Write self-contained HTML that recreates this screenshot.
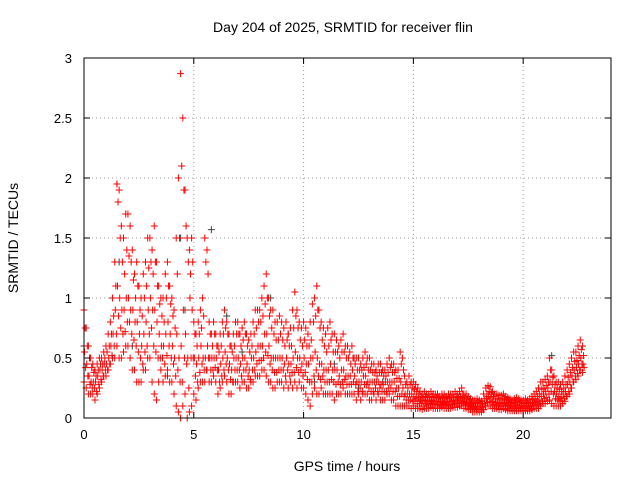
<!DOCTYPE html>
<html><head><meta charset="utf-8"><style>
html,body{margin:0;padding:0;background:#fff}
svg{display:block;font-family:"Liberation Sans",sans-serif}
</style></head><body>
<svg id="chart" width="640" height="480">
<text x="343" y="32" text-anchor="middle" font-size="14">Day 204 of 2025, SRMTID for receiver flin</text>
<text x="347" y="471" text-anchor="middle" font-size="14">GPS time / hours</text>
<text transform="translate(18,238) rotate(-90)" text-anchor="middle" font-size="14">SRMTID / TECUs</text>
<g id="grid"></g><g id="gray"></g><g id="red"></g><g id="axes"></g>
</svg>
<script>
const xTicks=[0,5,10,15,20];
const yTicks=[0,0.5,1,1.5,2,2.5,3];
const yTickLabels=["0","0.5","1","1.5","2","2.5","3"];
const tStart=0, tStep=0.1;
const redUpper=[0.9,0.75,0.6,0.5,0.45,0.4,0.45,0.5,0.5,0.55,
0.6,0.7,0.8,1.0,1.3,1.95,1.9,1.6,1.5,1.7,
1.7,1.6,1.4,1.2,1.3,1.1,1.0,1.2,1.3,1.5,
1.5,1.4,1.6,1.3,1.1,1.0,1.0,1.2,1.3,1.1,
1.0,0.9,1.5,2.0,2.87,2.5,1.9,1.5,1.4,1.5,
0.8,0.7,0.8,0.9,1.0,1.5,1.4,0.8,0.7,0.8,
0.7,0.6,0.7,0.8,0.9,0.8,0.7,0.6,0.7,0.8,
0.8,0.7,0.75,0.8,0.7,0.65,0.7,0.8,0.9,0.9,
0.9,1.0,1.1,1.2,1.0,0.9,0.9,0.8,0.8,0.85,
0.8,0.75,0.8,0.7,0.75,0.9,1.05,0.9,0.8,0.75,
0.8,0.75,0.7,0.8,0.95,1.0,1.1,0.9,0.8,0.75,
0.7,0.75,0.8,0.7,0.7,0.65,0.6,0.65,0.7,0.6,
0.6,0.55,0.6,0.5,0.5,0.5,0.45,0.5,0.55,0.5,
0.5,0.45,0.45,0.4,0.45,0.45,0.4,0.4,0.45,0.5,
0.45,0.45,0.4,0.4,0.55,0.5,0.35,0.3,0.35,0.3,
0.3,0.28,0.25,0.22,0.2,0.22,0.2,0.2,0.22,0.2,
0.2,0.2,0.18,0.2,0.2,0.18,0.2,0.2,0.2,0.22,
0.2,0.22,0.25,0.2,0.2,0.18,0.16,0.15,0.15,0.16,
0.15,0.14,0.2,0.25,0.27,0.26,0.22,0.2,0.2,0.19,
0.19,0.2,0.18,0.17,0.16,0.15,0.16,0.17,0.16,0.15,
0.15,0.16,0.15,0.16,0.18,0.2,0.22,0.25,0.3,0.3,
0.32,0.35,0.5,0.4,0.35,0.3,0.3,0.28,0.3,0.35,
0.4,0.45,0.5,0.55,0.55,0.6,0.65,0.6];
const redUpperMid=[0.75,0.6,0.5,0.42,0.38,0.35,0.4,0.45,0.45,0.5,
0.55,0.6,0.7,0.85,1.1,1.8,1.5,1.3,1.2,1.4,
1.35,1.3,1.15,1.0,1.1,0.9,0.85,1.0,1.1,1.25,
1.3,1.2,1.3,1.1,0.95,0.85,0.8,1.0,1.1,0.95,
0.85,0.75,1.2,1.5,2.1,1.9,1.6,1.3,1.2,1.3,
0.7,0.6,0.7,0.75,0.85,1.3,1.2,0.7,0.6,0.7,
0.6,0.55,0.6,0.7,0.75,0.7,0.6,0.55,0.6,0.7,
0.7,0.6,0.65,0.7,0.6,0.55,0.6,0.7,0.75,0.8,
0.8,0.85,0.95,1.0,0.85,0.75,0.7,0.65,0.65,0.7,
0.65,0.6,0.65,0.6,0.6,0.75,0.85,0.75,0.65,0.6,
0.65,0.6,0.6,0.65,0.8,0.85,0.9,0.75,0.65,0.6,
0.55,0.6,0.65,0.55,0.55,0.55,0.5,0.55,0.55,0.5,
0.5,0.45,0.5,0.45,0.4,0.4,0.4,0.42,0.45,0.4,
0.4,0.38,0.38,0.35,0.38,0.38,0.35,0.35,0.38,0.42,
0.38,0.38,0.33,0.33,0.45,0.4,0.28,0.25,0.28,0.25,
0.24,0.22,0.2,0.18,0.17,0.18,0.17,0.17,0.18,0.17,
0.17,0.17,0.16,0.17,0.17,0.16,0.17,0.17,0.17,0.18,
0.17,0.18,0.2,0.17,0.16,0.15,0.13,0.12,0.12,0.13,
0.12,0.12,0.16,0.2,0.22,0.21,0.18,0.16,0.16,0.15,
0.15,0.16,0.15,0.14,0.13,0.12,0.13,0.14,0.13,0.12,
0.12,0.13,0.12,0.13,0.15,0.16,0.18,0.2,0.24,0.25,
0.27,0.3,0.4,0.34,0.28,0.25,0.24,0.22,0.25,0.28,
0.34,0.38,0.42,0.47,0.48,0.52,0.57,0.52];
const redMid=[0.55,0.45,0.35,0.3,0.3,0.3,0.35,0.4,0.4,0.45,
0.45,0.5,0.6,0.7,0.9,1.1,1.0,0.9,0.9,1.0,
1.0,0.9,0.9,0.8,0.8,0.7,0.6,0.7,0.8,0.9,
1.0,0.9,0.9,0.8,0.7,0.6,0.6,0.7,0.8,0.7,
0.6,0.5,0.7,0.5,0.6,0.9,0.7,0.5,1.0,0.9,
0.5,0.45,0.5,0.6,0.5,0.5,0.6,0.5,0.5,0.5,
0.5,0.4,0.45,0.5,0.55,0.5,0.45,0.4,0.5,0.5,
0.5,0.45,0.5,0.5,0.45,0.4,0.5,0.5,0.55,0.6,
0.6,0.6,0.7,0.7,0.6,0.5,0.5,0.5,0.5,0.5,
0.5,0.45,0.5,0.45,0.45,0.5,0.55,0.5,0.5,0.45,
0.5,0.45,0.45,0.5,0.5,0.55,0.5,0.45,0.45,0.4,
0.4,0.4,0.45,0.4,0.4,0.4,0.35,0.4,0.4,0.35,
0.35,0.35,0.4,0.35,0.3,0.3,0.3,0.35,0.35,0.3,
0.3,0.3,0.3,0.3,0.3,0.28,0.28,0.3,0.3,0.3,
0.3,0.3,0.25,0.25,0.3,0.25,0.2,0.2,0.2,0.2,
0.18,0.17,0.16,0.15,0.14,0.15,0.14,0.15,0.15,0.14,
0.14,0.14,0.13,0.14,0.14,0.13,0.14,0.14,0.15,0.15,
0.15,0.15,0.16,0.14,0.13,0.12,0.11,0.1,0.1,0.1,
0.1,0.09,0.12,0.16,0.18,0.17,0.14,0.13,0.13,0.12,
0.12,0.13,0.12,0.11,0.1,0.1,0.1,0.11,0.1,0.1,
0.1,0.1,0.1,0.1,0.12,0.13,0.14,0.15,0.18,0.2,
0.22,0.25,0.3,0.28,0.22,0.2,0.18,0.17,0.2,0.22,
0.28,0.3,0.35,0.4,0.42,0.45,0.5,0.45];
const redMidLow=[0.42,0.35,0.28,0.25,0.25,0.22,0.28,0.32,0.35,0.4,
0.4,0.45,0.52,0.6,0.7,0.85,0.75,0.7,0.72,0.8,
0.8,0.7,0.65,0.6,0.55,0.5,0.45,0.55,0.6,0.7,
0.75,0.6,0.55,0.5,0.5,0.5,0.45,0.52,0.6,0.5,
0.45,0.35,0.4,0.3,0.3,0.5,0.45,0.25,0.5,0.5,
0.35,0.3,0.38,0.45,0.4,0.4,0.5,0.4,0.4,0.42,
0.4,0.3,0.35,0.4,0.45,0.4,0.32,0.3,0.4,0.4,
0.4,0.35,0.4,0.4,0.35,0.32,0.4,0.4,0.45,0.48,
0.48,0.5,0.55,0.52,0.45,0.4,0.38,0.38,0.4,0.4,
0.4,0.35,0.4,0.35,0.38,0.38,0.42,0.38,0.4,0.35,
0.38,0.32,0.3,0.3,0.35,0.4,0.35,0.32,0.35,0.3,
0.3,0.3,0.32,0.3,0.28,0.3,0.28,0.3,0.32,0.28,
0.28,0.28,0.3,0.28,0.22,0.25,0.22,0.28,0.28,0.25,
0.22,0.22,0.25,0.22,0.25,0.22,0.22,0.22,0.25,0.25,
0.22,0.22,0.18,0.18,0.2,0.18,0.15,0.15,0.15,0.14,
0.14,0.12,0.12,0.12,0.1,0.12,0.11,0.12,0.12,0.11,
0.11,0.11,0.1,0.12,0.11,0.1,0.11,0.11,0.12,0.12,
0.12,0.12,0.13,0.11,0.1,0.1,0.09,0.08,0.07,0.07,
0.07,0.07,0.1,0.13,0.14,0.13,0.11,0.1,0.1,0.1,
0.1,0.1,0.1,0.08,0.08,0.08,0.08,0.08,0.08,0.08,
0.08,0.08,0.08,0.08,0.1,0.1,0.11,0.12,0.14,0.16,
0.17,0.2,0.22,0.2,0.16,0.15,0.14,0.14,0.16,0.18,
0.22,0.25,0.3,0.35,0.37,0.4,0.45,0.42];
const redLow=[0.3,0.25,0.2,0.2,0.2,0.15,0.2,0.25,0.3,0.35,
0.35,0.4,0.45,0.5,0.5,0.6,0.5,0.5,0.55,0.6,
0.6,0.5,0.4,0.4,0.3,0.3,0.3,0.4,0.4,0.5,
0.5,0.3,0.2,0.15,0.3,0.4,0.3,0.35,0.4,0.3,
0.3,0.2,0.1,0.05,0.0,0.1,0.2,0.0,0.05,0.1,
0.2,0.15,0.25,0.3,0.3,0.3,0.4,0.3,0.3,0.35,
0.3,0.2,0.25,0.3,0.35,0.3,0.2,0.2,0.3,0.3,
0.3,0.25,0.3,0.3,0.25,0.25,0.3,0.3,0.35,0.35,
0.35,0.4,0.4,0.35,0.3,0.3,0.25,0.25,0.3,0.3,
0.3,0.25,0.3,0.25,0.3,0.25,0.3,0.25,0.3,0.25,
0.25,0.2,0.15,0.1,0.2,0.25,0.2,0.2,0.25,0.2,
0.2,0.2,0.2,0.2,0.15,0.2,0.2,0.2,0.25,0.2,
0.2,0.2,0.2,0.2,0.15,0.2,0.15,0.2,0.2,0.2,
0.15,0.15,0.2,0.15,0.2,0.15,0.15,0.15,0.2,0.2,
0.15,0.15,0.1,0.1,0.1,0.1,0.1,0.1,0.1,0.08,
0.1,0.08,0.08,0.08,0.07,0.08,0.08,0.08,0.09,0.08,
0.08,0.08,0.08,0.09,0.08,0.08,0.08,0.08,0.09,0.09,
0.09,0.1,0.1,0.08,0.08,0.07,0.07,0.05,0.05,0.05,
0.05,0.05,0.07,0.1,0.1,0.1,0.08,0.08,0.08,0.07,
0.07,0.08,0.07,0.06,0.06,0.06,0.06,0.06,0.06,0.06,
0.06,0.06,0.06,0.06,0.07,0.08,0.08,0.08,0.1,0.12,
0.12,0.14,0.15,0.12,0.1,0.1,0.1,0.1,0.12,0.14,
0.18,0.2,0.25,0.3,0.32,0.35,0.4,0.38];
const grayTimes=[0,1.5,2.2,3.8,4.4,5.8,6.5,8.5,10.5,12.5,17,21.3,1.6,4.6,7.2,9.3,11.4,13.6];
const grayValues=[0.6,1.95,0.6,0.35,1.5,1.57,0.85,1.0,0.3,0.25,0.15,0.52,1.3,0.9,0.55,0.7,0.45,0.3];

const L=84,R=611,T=58,B=418;
const xS=t=>L+(t/24)*(R-L);
const yS=v=>B-(v/3)*(B-T);
const NS="http://www.w3.org/2000/svg";
function mk(tag,attrs,parent){const e=document.createElementNS(NS,tag);for(const k in attrs)e.setAttribute(k,attrs[k]);parent.appendChild(e);return e;}
const grid=document.getElementById('grid'),axes=document.getElementById('axes');
xTicks.forEach((t,i)=>{
  const x=xS(t);
  if(t>0){const g=mk('line',{x1:x,x2:x,y1:T,y2:B,stroke:'#a0a0a0','stroke-dasharray':'1,3'},grid);
  
  }
  const tk=mk('path',{d:`M${x},${B}v-6M${x},${T}v6`,stroke:'#000'},axes);
  
  
  const lb=mk('text',{x:x,y:B+21,'text-anchor':'middle','font-size':'13'},axes);
  lb.textContent=String(t);
  
  
});
yTicks.forEach((v,i)=>{
  const y=yS(v);
  if(v>0&&v<3){const g=mk('line',{x1:L,x2:R,y1:y,y2:y,stroke:'#a0a0a0','stroke-dasharray':'1,3'},grid);
  
  }
  const tk=mk('path',{d:`M${L},${y}h6M${R},${y}h-6`,stroke:'#000'},axes);
  
  
  const lb=mk('text',{x:L-12,y:y+5,'text-anchor':'end','font-size':'13'},axes);
  lb.textContent=yTickLabels[i];
  
  
});
const border=mk('rect',{x:L,y:T,width:R-L,height:B-T,fill:'none',stroke:'#000'},axes);


function cross(t,v,color,parent,name){
  const x=xS(t),y=yS(v);
  const p=mk('path',{d:`M${x-3.5},${y}h7M${x},${y-3.5}v7`,stroke:color,'stroke-width':'1'},parent);
  
  
}
const gG=document.getElementById('gray'),gR=document.getElementById('red');
grayTimes.forEach((t,i)=>cross(t,grayValues[i],'#404040',gG,'gray-point'));
const seriesList=[redUpper,redUpperMid,redMid,redMidLow,redLow];
const offsets=[0,0.05,0.025,0.075,0.0];
seriesList.forEach((arr,s)=>arr.forEach((v,i)=>cross(tStart+i*tStep+offsets[s],v,'#ff0000',gR,'red-point')));
</script>
</body></html>
